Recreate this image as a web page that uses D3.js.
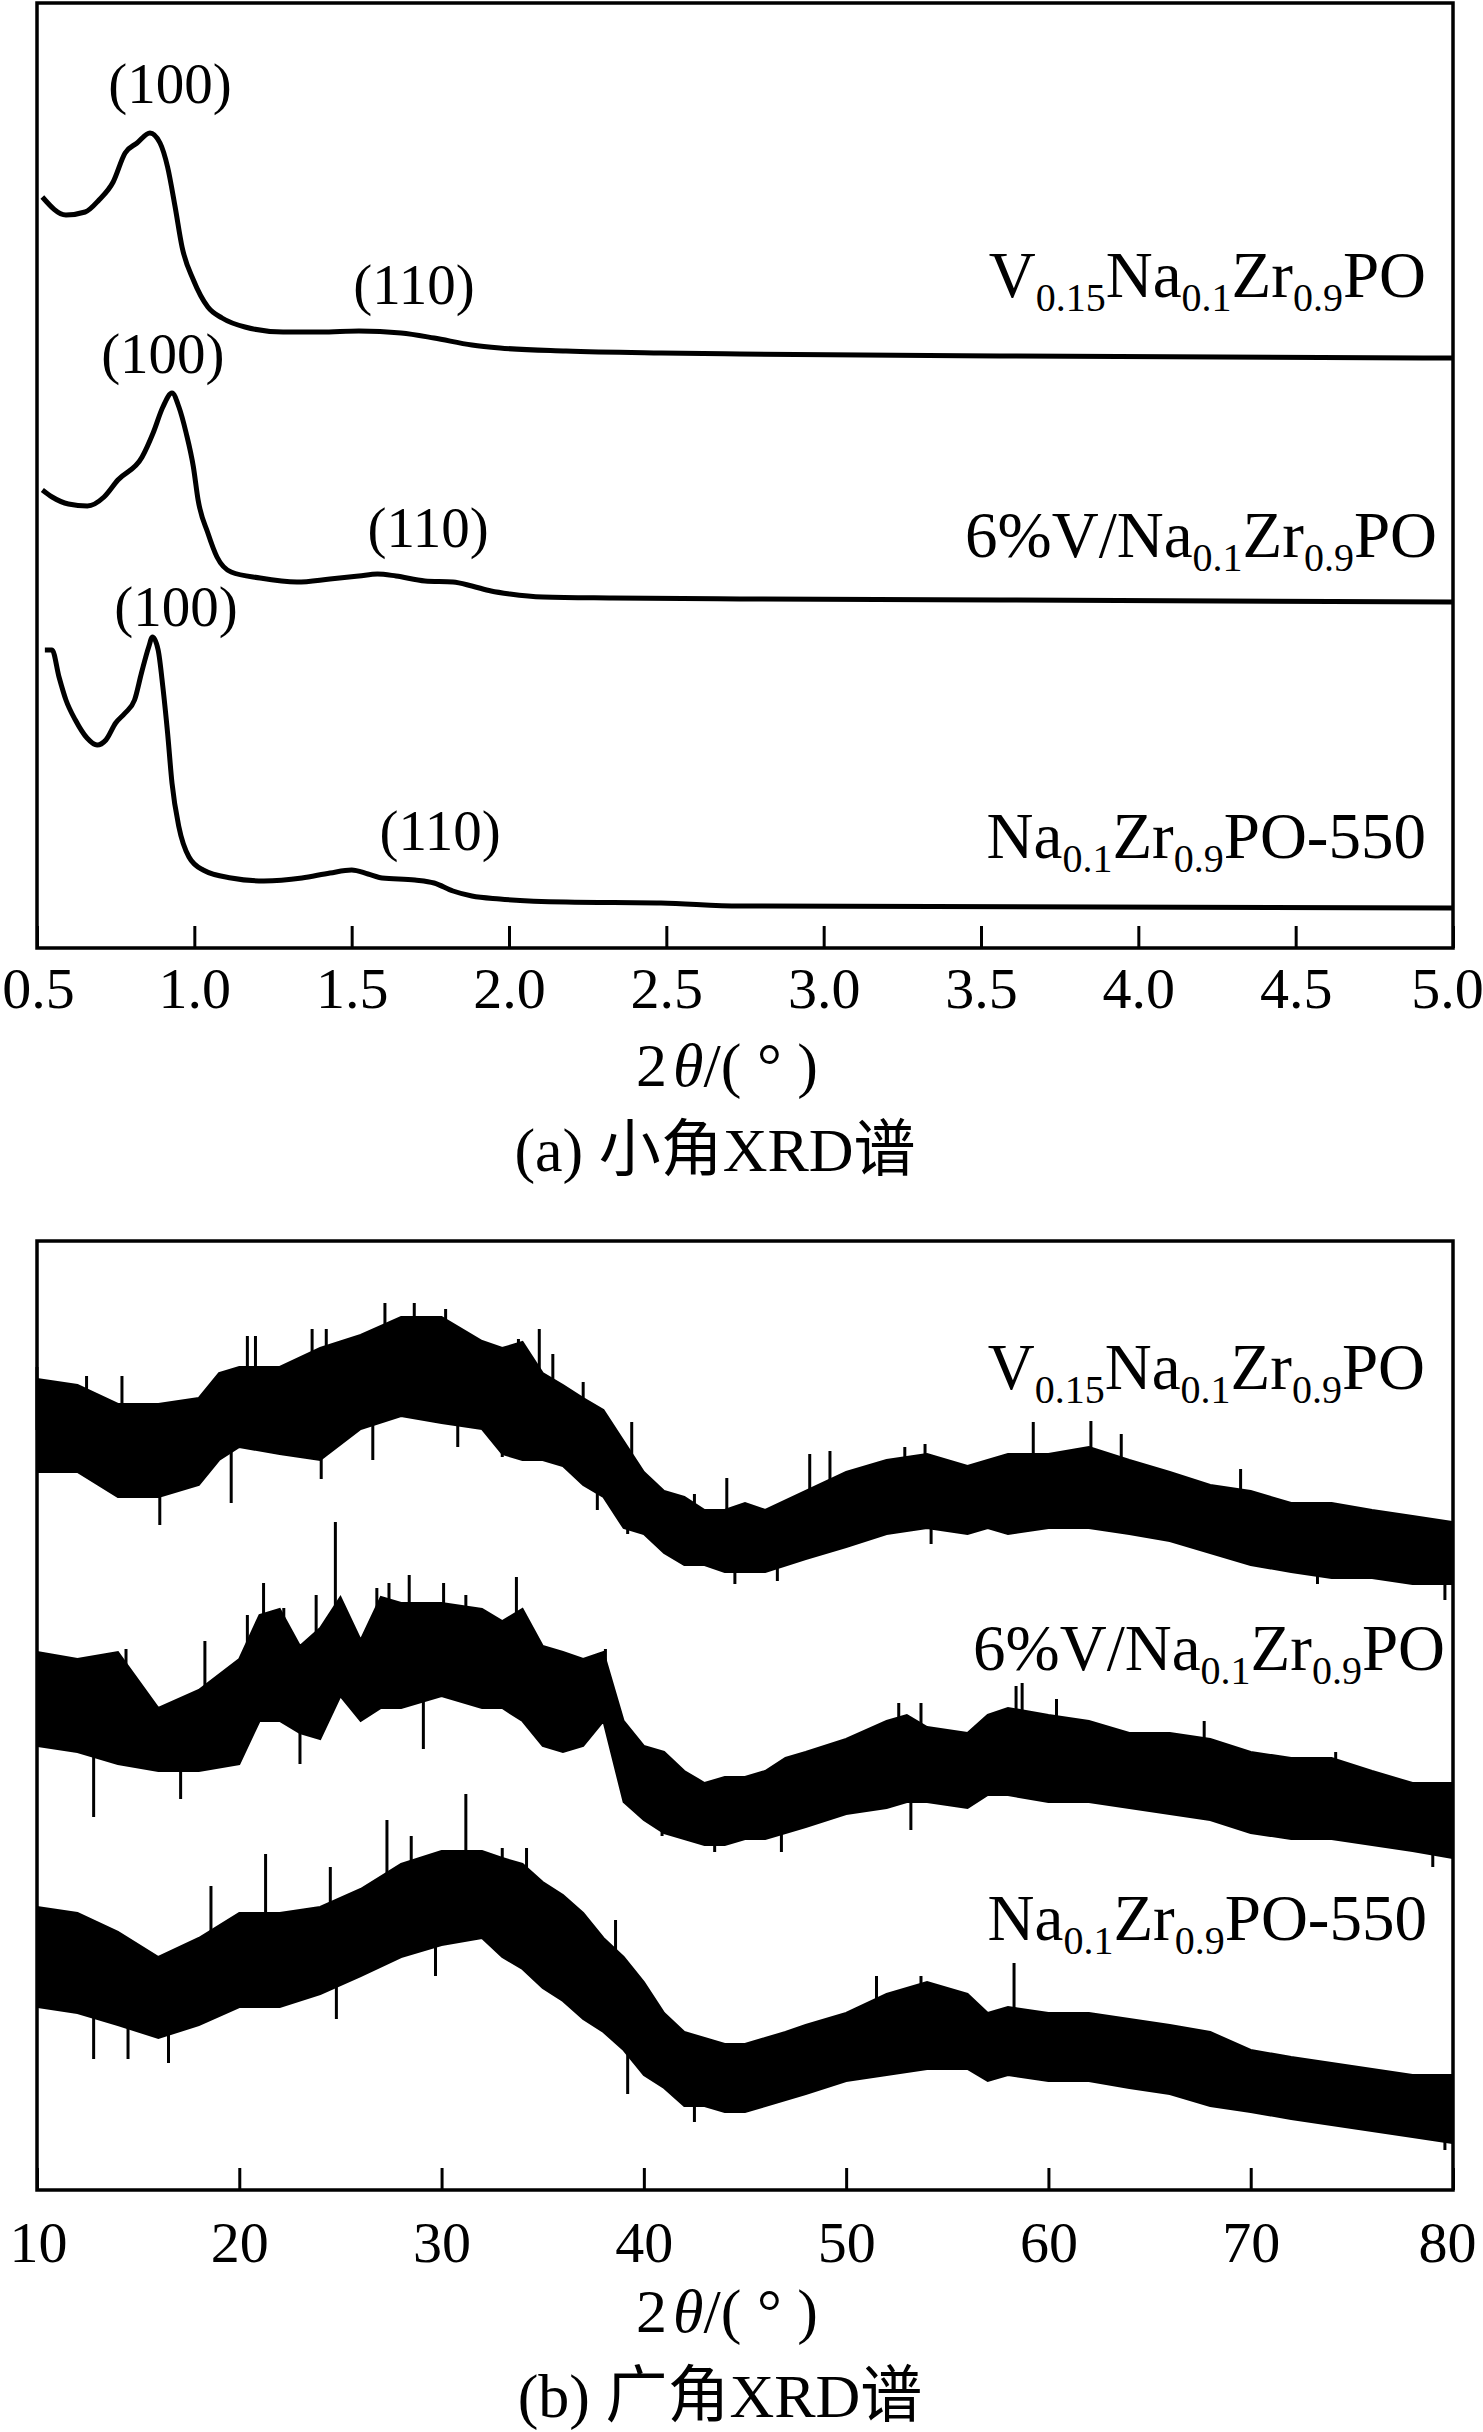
<!DOCTYPE html>
<html><head><meta charset="utf-8">
<script src="https://cdn.jsdelivr.net/npm/d3@7"></script>
<style>html,body{margin:0;padding:0;background:#fff}svg{display:block}</style>
</head><body>
<script>
// ---------------- DATA ----------------
// (a) small-angle XRD: [2theta, intensity a.u.]
const smallV015 = [[0.517,751],[0.592,733],[0.653,736],[0.697,748],[0.742,766],[0.780,795],[0.818,805],[0.859,815],[0.891,805],[0.915,781],[0.939,741],[0.961,701],[0.997,668],[1.043,641],[1.088,630],[1.161,621],[1.282,616],[1.403,616],[1.523,617],[1.657,615],[1.762,610],[1.882,603],[1.971,600],[2.181,597],[2.483,595],[2.734,594],[3.56,592],[5.0,590]];
const small6V = [[0.517,458],[0.548,451],[0.60,444],[0.66,442],[0.713,451],[0.757,468],[0.834,491],[0.869,515],[0.900,541],[0.929,555],[0.951,541],[0.974,515],[0.997,481],[1.012,448],[1.043,415],[1.072,391],[1.117,376],[1.209,370],[1.326,366],[1.431,369],[1.523,372],[1.582,374],[1.641,372],[1.733,367],[1.822,366],[1.882,362],[1.943,357],[2.003,354],[2.108,351],[2.330,350],[2.734,349],[3.56,348],[5.0,346]];
const smallNa550 = [[0.525,298],[0.548,298],[0.570,271],[0.592,248],[0.622,228],[0.659,210],[0.691,203],[0.719,208],[0.750,225],[0.780,235],[0.810,248],[0.832,275],[0.855,301],[0.867,311],[0.885,298],[0.900,261],[0.915,215],[0.929,165],[0.951,121],[0.983,91],[1.028,78],[1.117,70],[1.221,67],[1.342,70],[1.431,75],[1.500,78],[1.552,74],[1.597,70],[1.701,68],[1.762,65],[1.822,57],[1.882,52],[1.971,49],[2.181,46],[2.483,45],[2.734,42],[5.0,40]];
const smallTicks = [0.5,1.0,1.5,2.0,2.5,3.0,3.5,4.0,4.5,5.0];
const peakLabels = [["(100)",0.923,845],["(110)",1.698,644],["(100)",0.900,575],["(110)",1.743,401],["(100)",0.942,322],["(110)",1.781,98]];

// (b) wide-angle XRD, noisy band: [2theta, lower, upper]
const wideV015 = [[10,718,811],[12,718,805],[14,693,786],[16,693,786],[18,705,792],[19,730,817],[20,743,823],[22,736,823],[24,730,842],[26,761,855],[28,774,873],[30,767,873],[32,761,849],[33,736,842],[34,730,848],[35,730,817],[36,724,805],[37,705,792],[38,693,780],[39,662,749],[40,656,718],[41,637,699],[42,625,693],[43,625,680],[44,618,680],[45,618,687],[46,618,680],[48,631,699],[50,643,718],[52,656,730],[54,662,736],[56,656,724],[57,662,730],[58,656,736],[60,662,736],[62,662,743],[64,656,730],[66,649,718],[68,637,705],[70,625,699],[72,618,687],[74,612,687],[76,612,680],[78,606,674],[80,606,668]];
const wide6V = [[10,444,538],[12,438,531],[14,426,538],[16,419,482],[18,419,500],[20,426,531],[21,469,575],[22,469,581],[23,457,544],[24,451,562],[25,494,593],[26,469,550],[27,482,593],[28,482,587],[30,494,587],[32,482,581],[33,482,569],[34,469,581],[35,444,544],[36,438,538],[37,444,531],[38,469,538],[39,388,469],[40,370,444],[41,357,438],[42,351,419],[43,345,407],[44,345,413],[45,351,413],[46,351,419],[47,357,432],[48,363,438],[50,376,451],[52,382,469],[53,388,475],[54,388,463],[56,382,457],[57,395,475],[58,395,482],[60,388,475],[62,388,469],[64,382,457],[66,376,457],[68,370,451],[70,357,438],[72,351,432],[74,351,432],[76,345,419],[78,339,407],[80,332,407]];
const wideNa550 = [[10,183,283],[12,177,277],[14,165,258],[16,152,233],[18,165,252],[20,183,277],[22,183,277],[24,196,283],[26,214,301],[28,233,326],[30,245,339],[32,252,339],[33,233,332],[34,221,326],[35,202,308],[36,189,295],[37,171,277],[38,158,252],[39,140,233],[40,115,208],[41,102,177],[42,84,158],[43,84,152],[44,78,146],[45,78,146],[46,84,152],[47,90,158],[48,96,165],[50,109,177],[52,115,196],[54,121,208],[56,121,196],[57,109,177],[58,115,183],[60,109,177],[62,109,177],[64,102,171],[66,96,165],[68,84,158],[70,78,140],[72,71,133],[74,65,127],[76,59,121],[78,53,115],[80,47,115]];
// prominent noise spikes: [2theta, from, to]
const spikesV015 = [[10.0,760,823],[12.45,760,814],[14.2,740,814],[16.07,665,740],[19.6,687,780],[20.4,790,854],[20.8,790,854],[23.6,790,861],[24.3,790,861],[24.05,711,780],[27.2,820,887],[28.65,820,887],[30.2,820,881],[26.6,730,810],[30.8,743,820],[33.0,733,790],[33.8,790,851],[34.83,790,861],[35.5,780,836],[37.0,750,808],[37.7,680,740],[39.4,710,768],[39.2,656,710],[42.5,660,696],[44.1,650,712],[44.5,606,650],[46.6,609,650],[48.2,670,736],[49.2,670,739],[52.9,700,743],[53.9,700,746],[54.2,646,700],[59.25,700,768],[62.1,705,769],[63.6,695,756],[69.5,670,721],[73.3,606,650],[79.6,590,635]];
const spikes6V = [[12.8,373,485],[14.4,480,541],[17.1,391,455],[18.3,470,549],[20.4,500,575],[21.2,520,607],[22.2,520,582],[23.0,426,500],[23.8,510,595],[24.75,520,668],[26.8,530,602],[27.4,530,607],[28.4,540,615],[29.1,441,540],[30.1,540,607],[31.2,535,595],[33.7,530,613],[38.1,500,541],[40.9,354,400],[43.5,338,376],[46.8,338,382],[52.6,430,487],[53.2,360,430],[53.7,430,487],[58.4,438,504],[58.7,438,507],[60.4,432,491],[67.7,400,469],[74.2,390,438],[79.0,323,370]];
const spikesNa550 = [[12.8,131,220],[14.5,131,210],[16.5,127,196],[18.6,215,304],[21.3,230,336],[24.5,240,323],[24.8,171,240],[27.3,280,370],[28.5,280,354],[31.2,290,396],[29.7,214,290],[33.0,283,342],[34.2,277,342],[38.6,205,270],[39.2,96,180],[42.5,68,120],[51.5,150,214],[53.7,160,214],[58.3,150,227],[79.6,40,80]];
const wideTicks = [10,20,30,40,50,60,70,80];

const sampleNames = [
  [["V",0],["0.15",1],["Na",0],["0.1",1],["Zr",0],["0.9",1],["PO",0]],
  [["6%V/Na",0],["0.1",1],["Zr",0],["0.9",1],["PO",0]],
  [["Na",0],["0.1",1],["Zr",0],["0.9",1],["PO-550",0]]
];
const captions = ["(a) 小角XRD谱", "(b) 广角XRD谱"];

// ---------------- LAYOUT ----------------
const W = 1483, H = 2432;
const SERIF = "'Liberation Serif','Times New Roman',Times,'Noto Sans CJK SC',serif";
const svg = d3.select("body").append("svg").attr("width", W).attr("height", H)
  .style("font-family", SERIF);

const L = 37, R = 1453;
const A = {top: 3, bottom: 948};
const B = {top: 1241, bottom: 2190};

const xa = d3.scaleLinear().domain([0.5, 5.0]).range([L, R]);
const ya = d3.scaleLinear().domain([0, 945]).range([A.bottom, A.top]);
const xb = d3.scaleLinear().domain([10, 80]).range([L, R]);
const yb = d3.scaleLinear().domain([0, 949]).range([B.bottom, B.top]);

function axis(g, x, ticks, fmt, y0, pad) {
  const ax = d3.axisBottom(x).tickValues(ticks).tickFormat(fmt)
    .tickSizeInner(-22).tickSizeOuter(0).tickPadding(pad);
  const gg = g.append("g").attr("transform", `translate(0,${y0})`).call(ax);
  gg.select(".domain").remove();
  gg.selectAll(".tick line").attr("stroke", "#000").attr("stroke-width", 3);
  const n = ticks.length;
  gg.selectAll(".tick text").attr("fill", "#000").attr("font-size", 58)
    .attr("font-family", SERIF)
    .attr("dx", (d, i) => i === n - 1 ? -6 : (i === 0 ? 1 : 0));
}

function frame(top, bottom) {
  svg.append("rect").attr("x", L).attr("y", top).attr("width", R - L).attr("height", bottom - top)
    .attr("fill", "none").attr("stroke", "#000").attr("stroke-width", 3.5);
}

function axisTitle(cx, baseline) {
  const t = svg.append("text").attr("x", cx).attr("y", baseline).attr("text-anchor", "middle")
    .attr("font-size", 62).attr("fill", "#000");
  t.append("tspan").text("2");
  t.append("tspan").attr("font-style", "italic").attr("dx", 6).text("θ");
  t.append("tspan").text("/( ° )");
}

function caption(txt, cx, baseline) {
  svg.append("text").attr("x", cx).attr("y", baseline).attr("text-anchor", "middle")
    .attr("font-size", 62).attr("fill", "#000").text(txt);
}

function formula(segs, xr, yBase) {
  const t = svg.append("text").attr("x", xr).attr("y", yBase).attr("text-anchor", "end")
    .attr("font-size", 65).attr("fill", "#000");
  let sub = false;
  segs.forEach(([s, isSub]) => {
    const ts = t.append("tspan").text(s);
    if (isSub && !sub) { ts.attr("dy", 14).attr("font-size", 40); sub = true; }
    else if (isSub) { ts.attr("font-size", 40); }
    else if (!isSub && sub) { ts.attr("dy", -14); sub = false; }
  });
}

// ---------------- PANEL A ----------------
const line = (x, y) => d3.line().x(d => x(d[0])).y(d => y(d[1])).curve(d3.curveMonotoneX);
[smallV015, small6V, smallNa550].forEach(s => {
  svg.append("path").datum(s).attr("d", line(xa, ya)).attr("fill", "none")
    .attr("stroke", "#000").attr("stroke-width", 5).attr("stroke-linejoin", "round");
});
peakLabels.forEach(([t, a, v]) => {
  svg.append("text").attr("x", xa(a)).attr("y", ya(v)).attr("text-anchor", "middle")
    .attr("font-size", 57).attr("fill", "#000").text(t);
});
frame(A.top, A.bottom);
axis(svg, xa, smallTicks, d3.format(".1f"), A.bottom, 19);
const aLabelY = [651, 391, 90], aLabelOff = [27, 16, 27];
sampleNames.forEach((segs, i) => formula(segs, R - aLabelOff[i], ya(aLabelY[i])));
axisTitle(727, 1086);
caption(captions[0], 715, 1171);

// ---------------- PANEL B ----------------
const area = d3.area().x(d => xb(d[0])).y0(d => yb(d[1])).y1(d => yb(d[2])).curve(d3.curveLinear);
[[wideV015, spikesV015], [wide6V, spikes6V], [wideNa550, spikesNa550]].forEach(([band, spikes]) => {
  svg.append("path").datum(band).attr("d", area).attr("fill", "#000")
    .attr("stroke", "#000").attr("stroke-width", 2);
  svg.append("g").selectAll("line").data(spikes).join("line")
    .attr("x1", d => xb(d[0])).attr("x2", d => xb(d[0]))
    .attr("y1", d => yb(d[1])).attr("y2", d => yb(d[2]))
    .attr("stroke", "#000").attr("stroke-width", 3);
});
frame(B.top, B.bottom);
axis(svg, xb, wideTicks, d3.format("d"), B.bottom, 31);
const bLabelY = [801, 520, 250], bLabelOff = [28, 8, 26];
sampleNames.forEach((segs, i) => formula(segs, R - bLabelOff[i], yb(bLabelY[i])));
axisTitle(727, 2332);
caption(captions[1], 720, 2417);
</script>
</body></html>
